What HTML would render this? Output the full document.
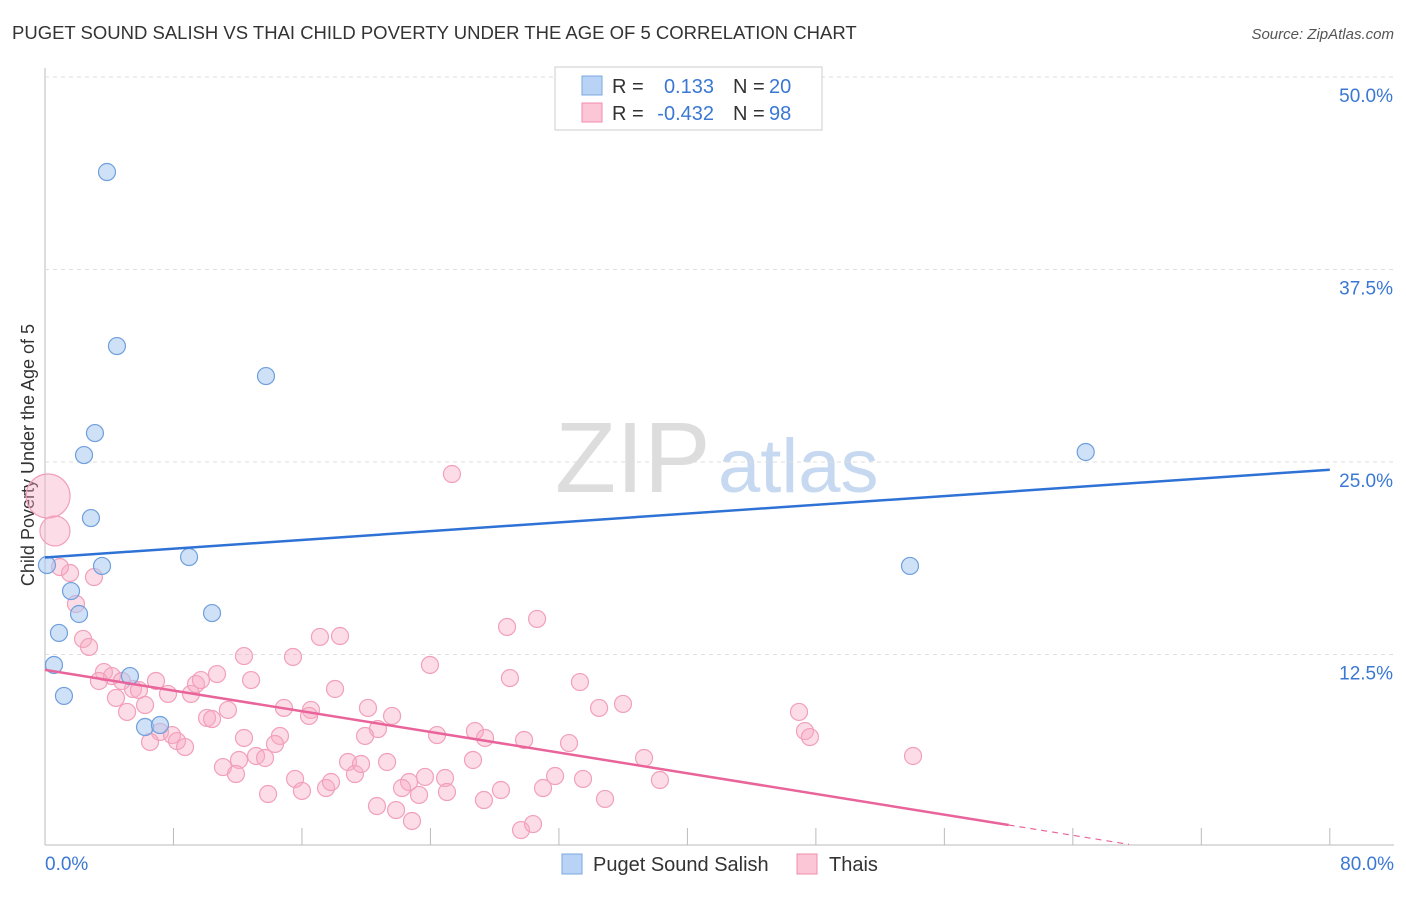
<!DOCTYPE html>
<html><head><meta charset="utf-8"><style>
body{margin:0;background:#fff;font-family:"Liberation Sans",sans-serif}
svg text{font-family:"Liberation Sans",sans-serif}
</style></head><body>
<svg id="chart" width="1406" height="892">
<text x="12" y="39" font-size="18.5" fill="#333">PUGET SOUND SALISH VS THAI CHILD POVERTY UNDER THE AGE OF 5 CORRELATION CHART</text>
<text x="1394" y="39" font-size="15" fill="#555" text-anchor="end" font-style="italic">Source: ZipAtlas.com</text>
<text x="555" y="492" font-size="100" fill="#ddd" font-family="Liberation Serif">ZIP</text>
<text x="718" y="492" font-size="76" fill="#c7d9f0">atlas</text>
<text transform="translate(34,455) rotate(-90)" font-size="18" fill="#333" text-anchor="middle">Child Poverty Under the Age of 5</text>
<g id="grid"></g><g id="marks"></g>
<g>
<rect x="555" y="67" width="267" height="63" fill="#fff" stroke="#ccc"/>
<rect x="582" y="76" width="20" height="19" fill="#b8d3f5" stroke="#7aa8e0"/>
<rect x="582" y="103" width="20" height="19" fill="#fbc6d6" stroke="#f08cab"/>
<text x="612" y="93" font-size="20" fill="#333">R =</text><text x="714" y="93" font-size="20" fill="#3a78d4" text-anchor="end">0.133</text>
<text x="733" y="93" font-size="20" fill="#333">N =</text><text x="769" y="93" font-size="20" fill="#3a78d4">20</text>
<text x="612" y="120" font-size="20" fill="#333">R =</text><text x="714" y="120" font-size="20" fill="#3a78d4" text-anchor="end">-0.432</text>
<text x="733" y="120" font-size="20" fill="#333">N =</text><text x="769" y="120" font-size="20" fill="#3a78d4">98</text>
</g>
<g>
<rect x="562" y="854" width="20" height="20" fill="#b8d3f5" stroke="#7aa8e0"/>
<text x="593" y="871" font-size="20" fill="#333">Puget Sound Salish</text>
<rect x="797" y="854" width="20" height="20" fill="#fbc6d6" stroke="#f08cab"/>
<text x="829" y="871" font-size="20" fill="#333">Thais</text>
</g>
</svg>
<script>
const xTicks=[0,8,16,24,32,40,48,56,64,72,80];
const yTicks=[12.5,25,37.5,50];
const yTickLabels=["12.5%","25.0%","37.5%","50.0%"];
const xEndLabels=["0.0%","80.0%"];
const salishX=[3.86,4.48,13.76,3.11,2.43,2.86,8.97,10.4,0.12,3.55,1.62,2.12,0.87,0.56,1.18,5.29,6.23,7.16,64.8,53.86];
const salishY=[43.83,32.53,30.58,26.88,25.45,21.36,18.83,15.19,18.31,18.25,16.62,15.13,13.9,11.82,9.81,11.1,7.79,7.92,25.65,18.25];
const thaiX=[25.34,30.64,28.77,17.12,18.37,12.39,15.44,23.97,28.95,33.31,34.5,35.99,46.95,47.32,47.63,54.05,3.05,1.56,0.93,1.93,2.37,2.74,3.67,4.17,3.36,4.79,5.48,5.85,6.91,7.66,9.09,9.4,9.71,10.71,4.42,5.11,6.23,7.16,7.91,8.22,8.72,6.54,10.09,10.4,11.39,12.83,14.88,16.56,16.44,18.06,20.11,21.61,20.73,12.39,14.63,14.32,13.14,13.7,12.08,11.08,11.89,13.89,15.57,16,17.5,17.81,18.87,19.3,19.68,21.3,19.93,24.41,26.77,27.4,29.83,32.63,37.3,26.65,31.76,33.5,38.29,23.66,24.91,22.67,22.23,23.29,20.67,21.86,22.85,25.03,27.33,28.39,31.01,34.87,29.64,30.39,0.19,0.62];
const thaiY=[24.22,14.81,14.29,13.64,13.7,12.4,12.34,11.82,10.97,10.71,9.03,9.29,8.77,7.53,7.14,5.91,17.53,17.79,18.18,15.78,13.51,12.99,11.36,11.1,10.78,10.78,10.26,10.19,10.78,9.94,9.94,10.58,10.84,11.23,9.68,8.77,9.22,7.47,7.27,6.88,6.49,6.82,8.38,8.31,8.9,10.84,9.03,8.9,8.51,10.26,9.03,8.51,7.66,7.08,7.21,6.69,5.91,5.78,5.65,5.19,4.74,3.44,4.42,3.64,3.83,4.22,5.52,4.74,5.39,5.52,7.21,7.27,7.53,7.08,6.95,6.75,5.78,5.65,4.61,4.42,4.35,4.55,4.48,4.22,3.83,3.38,2.66,2.4,1.69,3.57,3.05,3.7,3.83,3.12,1.1,1.49,22.79,20.52];
const thaiR=[];for(let i=0;i<thaiX.length;i++)thaiR.push(i>=96?(i===96?22:15):8.5);
const salishTrend=[18.8,24.5];
const thaiTrend=[11.5,1.43];
const X=v=>45+v*16.06, Y=v=>847-v*15.4;
const NS="http://www.w3.org/2000/svg";
function mk(p,t,a){const e=document.createElementNS(NS,t);for(const k in a)e.setAttribute(k,a[k]);p.appendChild(e);return e;}
const grid=document.getElementById('grid'),marks=document.getElementById('marks');
mk(grid,'line',{x1:45,x2:45,y1:68,y2:845,stroke:'#bbb'});
mk(grid,'line',{x1:45,x2:1394,y1:845,y2:845,stroke:'#bbb'});
yTicks.forEach((t,i)=>{
 const g=mk(grid,'line',{x1:45,x2:1394,y1:Y(t),y2:Y(t),stroke:'#ddd','stroke-dasharray':'4,4'});
 
 
 const tx=mk(grid,'text',{x:1393,y:Y(t)+25,'font-size':19,fill:'#3a78d4','text-anchor':'end'});tx.textContent=yTickLabels[i];
 
 
});
xTicks.forEach(t=>{const l=mk(grid,'line',{x1:X(t),x2:X(t),y1:828,y2:845,stroke:'#bbb'});
 
 });
[[0,'start',45],[80,'end',1394]].forEach((d,i)=>{const tx=mk(grid,'text',{x:d[2],y:870,'font-size':19,fill:'#3a78d4','text-anchor':d[1]});tx.textContent=xEndLabels[i];
 
 });
thaiX.forEach((x,i)=>{const c=mk(marks,'circle',{cx:X(x),cy:Y(thaiY[i]),r:thaiR[i],fill:'rgba(247,170,195,0.4)',stroke:'#f2a0ba','stroke-width':1.2});
 
 });
salishX.forEach((x,i)=>{const c=mk(marks,'circle',{cx:X(x),cy:Y(salishY[i]),r:8.5,fill:'rgba(168,200,240,0.55)',stroke:'#6f9fdc','stroke-width':1.2});
 
 });
const bl=mk(marks,'line',{x1:X(0),y1:Y(salishTrend[0]),x2:X(80),y2:Y(salishTrend[1]),stroke:'#2f72d6','stroke-width':2.5});


const slope=(thaiTrend[1]-thaiTrend[0])/60;
const pl=mk(marks,'line',{x1:X(0),y1:Y(thaiTrend[0]),x2:X(60),y2:Y(thaiTrend[1]),stroke:'#e8649a','stroke-width':2.5});


const pd=mk(marks,'line',{x1:X(60),y1:Y(thaiTrend[1]),x2:X(67.5),y2:Y(thaiTrend[0]+slope*67.5),stroke:'#e8649a','stroke-width':1.2,'stroke-dasharray':'6,5'});


</script>
</body></html>
